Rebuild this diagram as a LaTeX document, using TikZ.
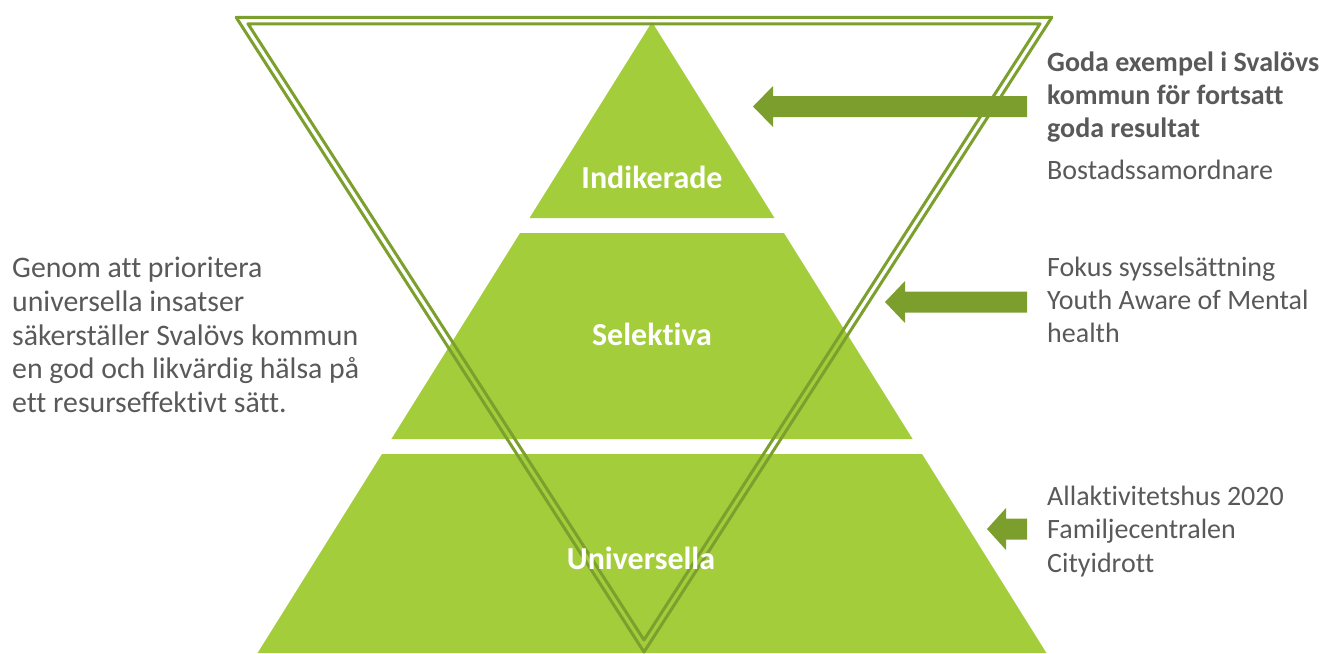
\documentclass[tikz,border=0pt]{standalone}
\usepackage{fontspec}
\setmainfont[Ligatures=NoCommon]{Carlito}
\definecolor{pyr}{HTML}{A3CD3B}
\definecolor{dkg}{HTML}{7CA02D}
\definecolor{arr}{HTML}{7B9E2D}
\definecolor{txt}{HTML}{595959}
\begin{document}
\begin{tikzpicture}[x=1pt,y=-1pt,
  tier/.style={fill=pyr,draw=none},
  vline/.style={draw=dkg,line width=3pt,line join=round},
  bigarrow/.style={fill=arr,draw=none},
  body/.style={font=\fontsize{28}{32}\selectfont,text=txt,inner sep=0pt,anchor=base west},
  bodyl/.style={body,font=\fontsize{29.8}{34}\selectfont},
  bodyb/.style={body,font=\fontsize{28}{32}\selectfont\bfseries},
  lbl/.style={font=\fontsize{32}{36}\selectfont\bfseries,text=white,inner sep=0pt,anchor=base}]
\useasboundingbox (0,0) rectangle (1327,653);
% pyramid tiers
\fill[tier] (652,22) -- (774.5,218) -- (529.5,218) -- cycle;
\fill[tier] (520.1,233) -- (783.9,233) -- (912.6,439) -- (391.4,439) -- cycle;
\fill[tier] (382,454) -- (922,454) -- (1046.4,653) -- (257.6,653) -- cycle;
% inverted double triangle
\draw[vline] (236.1,17.25) -- (1051.9,17.25) -- (644,652) -- cycle;
\draw[vline] (247.95,23.75) -- (1040.05,23.75) -- (644,640) -- cycle;
% arrows
\fill[bigarrow] (1027,96) -- (773,96) -- (773,86) -- (753,106.5) -- (773,127) -- (773,117) -- (1027,117) -- cycle;
\fill[bigarrow] (1027,291.5) -- (905,291.5) -- (905,281) -- (885,302) -- (905,323) -- (905,312.5) -- (1027,312.5) -- cycle;
\fill[bigarrow] (1027,518.5) -- (1006,518.5) -- (1006,508) -- (987,529) -- (1006,550) -- (1006,539.5) -- (1027,539.5) -- cycle;
% tier labels
\node[lbl] (ind) at (652,188) {Indikerade};
\node[lbl] (sel) at (652,345) {Selektiva};
\node[lbl] (uni) at (641,569) {Universella};
% left text
\node[bodyl] (l1) at (12,277.5) {Genom att prioritera};
\node[bodyl] (l2) at (12,311) {universella insatser};
\node[bodyl] (l3) at (12,345) {säkerställer Svalövs kommun};
\node[bodyl] (l4) at (12,378.5) {en god och likvärdig hälsa på};
\node[bodyl] (l5) at (12,412.5) {ett resurseffektivt sätt.};
% right text
\node[bodyb] (r1) at (1047,71) {Goda exempel i Svalövs};
\node[bodyb] (r2) at (1047,104) {kommun för fortsatt};
\node[bodyb] (r3) at (1047,137) {goda resultat};
\node[body] (r4) at (1047,179) {Bostadssamordnare};
\node[body] (r5) at (1047,276) {Fokus sysselsättning};
\node[body] (r6) at (1047,309) {Youth Aware of Mental};
\node[body] (r7) at (1047,342) {health};
\node[body] (r8) at (1047,505) {Allaktivitetshus 2020};
\node[body] (r9) at (1047,538.5) {Familjecentralen};
\node[body] (r10) at (1047,572) {Cityidrott};
\end{tikzpicture}
\end{document}
